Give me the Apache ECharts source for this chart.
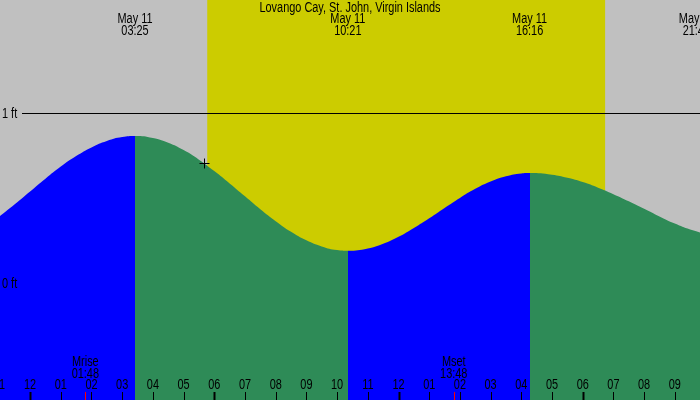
<!DOCTYPE html>
<html>
<head>
<meta charset="utf-8">
<script src="https://cdn.jsdelivr.net/npm/echarts@6/dist/echarts.min.js"></script>
<style>html,body{margin:0;padding:0;background:#c0c0c0}#main{width:700px;height:400px}</style>
</head>
<body>
<div id="main"></div>
<script>
const chartDom = document.getElementById('main');
const myChart = echarts.init(chartDom);

// hours since midnight May 11, tide in ft
const tideHours = [-1, -0.5, 0, 0.5, 1, 1.5, 2, 2.5, 3, 3.417, 4, 4.5, 5, 5.5, 6, 6.5, 7, 7.5, 8, 8.5, 9, 9.5, 10, 10.35,
  11, 11.5, 12, 12.5, 13, 13.5, 14, 14.5, 15, 15.5, 16, 16.27, 17, 17.5, 18, 18.5, 19, 19.5, 20, 20.5, 21, 21.5, 22];
const tideFeet  = [0.392, 0.464, 0.539, 0.614, 0.685, 0.747, 0.798, 0.836, 0.859, 0.865, 0.853, 0.825, 0.782, 0.726, 0.659, 0.586, 0.510, 0.434, 0.364, 0.301, 0.251, 0.215, 0.194, 0.19,
  0.203, 0.231, 0.272, 0.324, 0.381, 0.442, 0.501, 0.554, 0.597, 0.628, 0.645, 0.647, 0.637, 0.619, 0.594, 0.561, 0.523, 0.481, 0.437, 0.392, 0.35, 0.315, 0.29];
// high / low events
const eventHours  = [3.417, 10.35, 16.27, 21.7];
const eventLabels = ['May 11\n03:25', 'May 11\n10:21', 'May 11\n16:16', 'May 11\n21:42'];
// daylight
const sunrise = 5.77, sunset = 18.73;
// moon
const moonHours  = [1.8, 13.8];
const moonLabels = ['Mrise\n01:48', 'Mset\n13:48'];
// hour ticks
const tickHours = [-1,0,1,2,3,4,5,6,7,8,9,10,11,12,13,14,15,16,17,18,19,20,21];
const levelFeet = [1, 0];
const levelLabels = ['1 ft', '0 ft'];
const markerPoint = [5.67, 0.705];
const title = 'Lovango Cay, St. John, Virgin Islands';

const FONT = '14px "Liberation Sans", sans-serif';
const SX = 0.78; // narrow the type like the original
const xMin = -0.98, xMax = 21.82;

const data = tideHours.map((h, i) => [h, tideFeet[i]]);

function hourLabel(h) {
  let v = ((h % 12) + 12) % 12;
  if (v === 0) v = 12;
  return (v < 10 ? '0' : '') + v;
}

function txt(x, y, text, align) {
  return { type: 'text', x: x, y: y, scaleX: SX,
    style: { x: 0, y: 0, text: text, align: align || 'center', verticalAlign: 'top', lineHeight: 12, fill: '#000', font: FONT } };
}

const option = {
  animation: false,
  backgroundColor: '#c0c0c0',
  grid: { left: 0, right: 0, top: 0, bottom: 0 },
  xAxis: { type: 'value', min: xMin, max: xMax, show: false },
  yAxis: { type: 'value', min: -0.688, max: 1.665, show: false },
  visualMap: {
    show: false, type: 'piecewise', dimension: 0, seriesIndex: 1,
    pieces: [
      { lt: 3.417, color: '#0000ff' },
      { gte: 3.417, lt: 10.35, color: '#2e8b57' },
      { gte: 10.35, lt: 16.27, color: '#0000ff' },
      { gte: 16.27, color: '#2e8b57' }
    ]
  },
  series: [
    {
      type: 'custom', z: 0, silent: true,
      data: [[sunrise, sunset]],
      renderItem: (params, api) => {
        const a = api.coord([api.value(0), 0]);
        const b = api.coord([api.value(1), 0]);
        return { type: 'group', children: [
          { type: 'rect', shape: { x: a[0], y: 0, width: b[0] - a[0], height: 400 }, style: { fill: '#cccc00' } },
          txt(350, 2, title)
        ] };
      }
    },
    {
      type: 'line', z: 2, data: data, smooth: true, symbol: 'none',
      lineStyle: { width: 0 },
      areaStyle: { opacity: 1, origin: 'start' }
    },
    {
      type: 'custom', z: 3, silent: true,
      data: levelFeet.map(v => [xMin, v]),
      renderItem: (params, api) => {
        const p = api.coord([api.value(0), api.value(1)]);
        const y = Math.round(p[1]) + 0.5;
        const children = [txt(2, y - 5, levelLabels[params.dataIndex], 'left')];
        if (params.dataIndex === 0) children.push({ type: 'line', shape: { x1: 22, y1: y, x2: 700, y2: y }, style: { stroke: '#000', lineWidth: 1 } });
        return { type: 'group', children };
      }
    },
    {
      type: 'custom', z: 3, silent: true,
      data: eventHours.map(h => [h, 0]),
      renderItem: (params, api) => {
        const p = api.coord([api.value(0), 0]);
        return txt(p[0], 13, eventLabels[params.dataIndex]);
      }
    },
    {
      type: 'custom', z: 3, silent: true,
      data: moonHours.map(h => [h, 0]),
      renderItem: (params, api) => {
        const p = api.coord([api.value(0), 0]);
        const x = Math.round(p[0]) + 0.5;
        return { type: 'group', children: [
          txt(p[0], 356, moonLabels[params.dataIndex]),
          { type: 'line', shape: { x1: x, y1: 392, x2: x, y2: 400 }, style: { stroke: '#ff0000', lineWidth: 1 } }
        ] };
      }
    },
    {
      type: 'custom', z: 3, silent: true,
      data: tickHours.map(h => [h, 0]),
      renderItem: (params, api) => {
        const h = api.value(0);
        const p = api.coord([h, 0]);
        const x = Math.round(p[0]) + 0.5;
        return { type: 'group', children: [
          txt(p[0], 379, hourLabel(h)),
          { type: 'line', shape: { x1: x, y1: 392, x2: x, y2: 400 }, style: { stroke: '#000', lineWidth: h % 6 === 0 ? 2 : 1 } }
        ] };
      }
    },
    {
      type: 'custom', z: 4, silent: true,
      data: [markerPoint],
      renderItem: (params, api) => {
        const p = api.coord([api.value(0), api.value(1)]);
        const x = Math.round(p[0]) + 0.5, y = Math.round(p[1]) + 0.5;
        return { type: 'group', children: [
          { type: 'line', shape: { x1: x - 5, y1: y, x2: x + 5, y2: y }, style: { stroke: '#000', lineWidth: 1 } },
          { type: 'line', shape: { x1: x, y1: y - 5, x2: x, y2: y + 5 }, style: { stroke: '#000', lineWidth: 1 } }
        ] };
      }
    }
  ]
};
option && myChart.setOption(option);
</script>
</body>
</html>
